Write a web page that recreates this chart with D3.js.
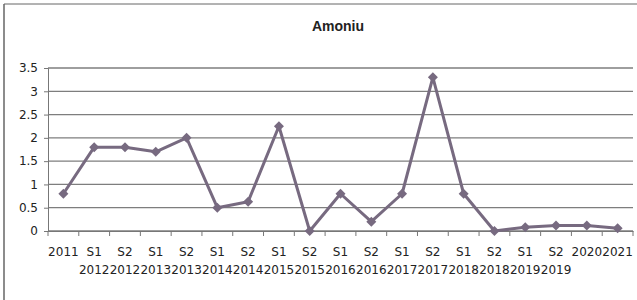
<!DOCTYPE html>
<html><head><meta charset="utf-8">
<script src="https://cdn.jsdelivr.net/npm/d3@7"></script>
<style>body{margin:0;background:#fff}svg{display:block}</style>
</head><body>
<svg id="c" width="637" height="300"></svg>
<script>
const title = "Amoniu";
const categories = ["2011","S1 2012","S2 2012","S1 2013","S2 2013","S1 2014","S2 2014","S1 2015","S2 2015","S1 2016","S2 2016","S1 2017","S2 2017","S1 2018","S2 2018","S1 2019","S2 2019","2020","2021"];
const values = [0.8,1.8,1.8,1.7,2.0,0.5,0.63,2.25,0,0.8,0.2,0.8,3.3,0.8,0,0.08,0.12,0.12,0.06];
const yTicks = [0,0.5,1,1.5,2,2.5,3,3.5];

const svg = d3.select("#c");
const m = {l:48, r:4, t:68, b:69};
const W = 637, H = 300;
const x = d3.scaleBand().domain(categories).range([m.l, W - m.r]);
const y = d3.scaleLinear().domain([0,3.5]).range([H - m.b, m.t]);

// frame
svg.append("line").attr("x1",4).attr("x2",637).attr("y1",4).attr("y2",4).attr("stroke","#666").attr("stroke-width",1);
svg.append("line").attr("x1",4).attr("x2",4).attr("y1",4).attr("y2",300).attr("stroke","#666").attr("stroke-width",1.5);

svg.append("text").attr("x",338).attr("y",31).attr("text-anchor","middle")
  .attr("font-family","Liberation Sans, Arial, sans-serif").attr("font-weight","bold").attr("font-size",14).attr("fill","#222").text(title);

// grid
svg.append("g").selectAll("line").data(yTicks).join("line")
  .attr("x1",m.l).attr("x2",W-m.r).attr("y1",d=>y(d)).attr("y2",d=>y(d))
  .attr("stroke","#7e7e7e").attr("stroke-width",1.3);

// y axis
const ya = svg.append("g").attr("transform",`translate(${m.l},0)`)
  .call(d3.axisLeft(y).tickValues(yTicks).tickSize(4).tickFormat(d=>String(d)));
ya.select(".domain").attr("stroke","#777");
ya.selectAll(".tick line").attr("stroke","#777");
ya.selectAll("text").attr("font-family","DejaVu Sans, sans-serif").attr("font-size",12).attr("fill","#222").attr("x",-10);

// x axis
const xa = svg.append("g").attr("transform",`translate(0,${H-m.b})`)
  .call(d3.axisBottom(x).tickSize(0).tickFormat(""));
xa.select(".domain").attr("stroke","#777").attr("stroke-width",1.2);
// category boundary ticks
const bounds = categories.map(c=>x(c)).concat([x(categories[categories.length-1])+x.bandwidth()]);
svg.append("g").selectAll("line").data(bounds).join("line")
  .attr("x1",d=>d).attr("x2",d=>d).attr("y1",H-m.b).attr("y2",H-m.b+5).attr("stroke","#777");

const labels = svg.append("g").selectAll("text").data(categories).join("text")
  .attr("x",d=>x(d)+x.bandwidth()/2).attr("y",H-m.b+25)
  .attr("text-anchor","middle").attr("font-family","DejaVu Sans, sans-serif").attr("font-size",12).attr("fill","#222");
labels.each(function(d){
  const parts = d.split(" ");
  const t = d3.select(this);
  parts.forEach((p,i)=>t.append("tspan").attr("x",x(d)+x.bandwidth()/2).attr("dy",i===0?0:18).text(p));
});

// line
const cx = d=>x(d)+x.bandwidth()/2;
svg.append("path").datum(values)
  .attr("d", d3.line().x((d,i)=>cx(categories[i])).y(d=>y(d)))
  .attr("fill","none").attr("stroke","#776a80").attr("stroke-width",3).attr("stroke-linejoin","round");
svg.append("g").selectAll("path").data(values).join("path")
  .attr("d", d3.symbol(d3.symbolSquare,50)())
  .attr("transform",(d,i)=>`translate(${cx(categories[i])},${y(d)}) rotate(45)`)
  .attr("fill","#776a80");
</script>
</body></html>
